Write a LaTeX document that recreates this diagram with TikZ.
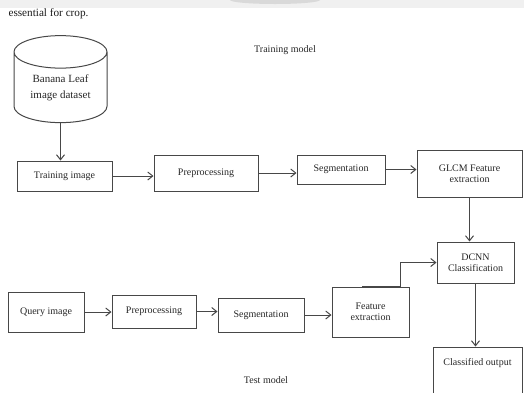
\documentclass[tikz,border=0pt]{standalone}
\usepackage{fontspec}
\setmainfont{Liberation Serif}
\usetikzlibrary{shapes.geometric,arrows.meta}
\definecolor{wirecol}{HTML}{474747}
\definecolor{textcol}{HTML}{262626}
\begin{document}
\begin{tikzpicture}[x=1pt, y=-1pt,
    every node/.style={font=\fontsize{10}{11.5}\selectfont, text=textcol},
    block/.style={draw=wirecol, line width=1pt, rectangle, inner sep=0pt, align=center},
    wire/.style={draw=wirecol, line width=1pt, -{Straight Barb[length=5pt, width=8pt]}}]
        \path[use as bounding box, clip] (0, 0) rectangle (524, 392);
        \fill[gray!12] (0, 0) rectangle (524, 8);
        \fill[gray!30] (275, 0) ellipse (45 and 4);
        % Paths, nodes and wires:
        \node[anchor=west, font=\fontsize{11.2}{13}\selectfont, text=black!90](T0) at (5, 14){essential for crop.};
        \node(T1) at (285, 50){Training model};
        \node(T2) at (266, 380){Test model};
        \node[cylinder, shape border rotate=90, shape aspect=0.54, draw=wirecol, line width=1pt, minimum width=93, minimum height=87, align=center, inner sep=0pt, font=\fontsize{11}{16}\selectfont](N1) at (60.5, 87.5){Banana Leaf\\image dataset};
        \node[block, minimum width=95, minimum height=30](N2) at (64.5, 176){Training image};
        \node[block, minimum width=104, minimum height=36](N3) at (206, 173){Preprocessing};
        \node[block, minimum width=88, minimum height=29](N4) at (341, 169.5){Segmentation};
        \node[block, minimum width=105, minimum height=47](N5) at (469.5, 173.5){GLCM Feature\\extraction};
        \node[block, minimum width=77, minimum height=41](N6) at (475.5, 262.5){DCNN\\Classification};
        \node[block, minimum width=89, minimum height=53, label={[anchor=north, label distance=-8pt]north:Classified output}](N7) at (477.5, 373.5){};
        \node[block, minimum width=76, minimum height=40](N8) at (46, 312){Query image};
        \node[block, minimum width=84, minimum height=33](N9) at (154, 311.5){Preprocessing};
        \node[block, minimum width=86, minimum height=34](N10) at (261, 315){Segmentation};
        \node[block, minimum width=77, minimum height=50](N11) at (370.5, 312){Feature\\extraction};
        \draw[wire] (N1.south) -- (N1.south |- N2.north);
        \draw[wire] (N2.east) -- (N2.east -| N3.west);
        \draw[wire] (N3.east) -- (N3.east -| N4.west);
        \draw[wire] (N4.east) -- (N4.east -| N5.west);
        \draw[wire] (N5.south) -- (N5.south |- N6.north);
        \draw[wire] (N6.south) -- (N6.south |- N7.north);
        \draw[wire] (N8.east) -- (N8.east -| N9.west);
        \draw[wire] (N9.east) -- (N9.east -| N10.west);
        \draw[wire] (N10.east) -- (N10.east -| N11.west);
        \draw[wire] ([xshift=-8.5]N11.north) -- ([xshift=-9]N11.north east) |- (N6.west);
    \end{tikzpicture}
\end{document}
